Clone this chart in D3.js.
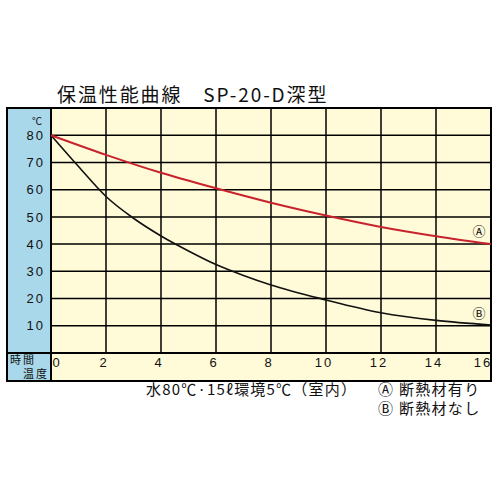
<!DOCTYPE html>
<html lang="ja">
<head>
    <meta charset="UTF-8">
    <title>保温性能曲線 SP-20-D深型</title>
    <script src="https://d3js.org/d3.v7.min.js"></script>
    <style>
        body {
            margin: 0;
            background: #fff;
            font-family: "Noto Sans CJK JP", "Noto Sans", sans-serif;
        }
        text {
            fill: #111;
        }
    </style>
</head>
<body>
    <div id="chart"></div>

    <script>
        // Data
        const xTicks = [0, 2, 4, 6, 8, 10, 12, 14, 16];        // 時間
        const yTicks = [10, 20, 30, 40, 50, 60, 70, 80];        // 温度 (℃)

        // A: 断熱材有り
        const hoursA = [0, 2, 4, 6, 8, 10, 12, 14, 16];
        const tempA  = [80, 72.8, 66.2, 60.5, 55.2, 50.5, 46.3, 42.9, 40];

        // B: 断熱材なし
        const hoursB = [0, 1, 2, 3, 4, 5, 6, 7, 8, 10, 12, 14, 16];
        const tempB  = [80, 68.5, 57.5, 49.5, 43, 37.5, 32.5, 28.5, 25, 19.5, 14.8, 12, 10.3];

        const title = "保温性能曲線　SP-20-D深型";
        const note = "水80℃·15ℓ環境5℃（室内）";
        const legendA = "断熱材有り";
        const legendB = "断熱材なし";

        // Layout
        const W = 500, H = 500;
        const panelLeft = 7;        // left edge of blue label column
        const labelRow = 28;        // height of the time label row

        const x = d3.scaleLinear().domain([0, 16]).range([51, 491]);
        const y = d3.scaleLinear().domain([0, 90]).range([353, 108]);

        const svg = d3.select("#chart")
            .append("svg")
            .attr("width", W)
            .attr("height", H);

        const plotTop = y(90), plotBottom = y(0);

        // Backgrounds
        svg.append("rect")
            .attr("x", x(0)).attr("y", plotTop)
            .attr("width", x(16) - x(0)).attr("height", plotBottom + labelRow - plotTop)
            .attr("fill", "#fffad8");

        svg.append("rect")
            .attr("x", panelLeft).attr("y", plotTop)
            .attr("width", x(0) - panelLeft).attr("height", plotBottom + labelRow - plotTop)
            .attr("fill", "#a8d8ea");

        // Grid
        const grid = svg.append("g").attr("stroke", "#000").attr("stroke-width", 1.5);

        grid.selectAll(".vline")
            .data(xTicks.filter(d => d > 0 && d < 16))
            .enter().append("line")
            .attr("x1", d => x(d)).attr("x2", d => x(d))
            .attr("y1", plotTop).attr("y2", plotBottom);

        grid.selectAll(".hline")
            .data(yTicks)
            .enter().append("line")
            .attr("x1", x(0)).attr("x2", x(16))
            .attr("y1", d => y(d)).attr("y2", d => y(d));

        // Frame
        const frame = svg.append("g").attr("stroke", "#000").attr("stroke-width", 2).attr("fill", "none");
        frame.append("rect")
            .attr("x", panelLeft).attr("y", plotTop)
            .attr("width", x(16) - panelLeft).attr("height", plotBottom + labelRow - plotTop);
        frame.append("line")
            .attr("x1", x(0)).attr("x2", x(0))
            .attr("y1", plotTop).attr("y2", plotBottom + labelRow);
        frame.append("line")
            .attr("x1", panelLeft).attr("x2", x(16))
            .attr("y1", plotBottom).attr("y2", plotBottom);

        // Curves
        const line = d3.line()
            .x(d => x(d[0]))
            .y(d => y(d[1]))
            .curve(d3.curveMonotoneX);

        svg.append("path")
            .datum(hoursB.map((h, i) => [h, tempB[i]]))
            .attr("d", line)
            .attr("fill", "none")
            .attr("stroke", "#111")
            .attr("stroke-width", 1.6);

        svg.append("path")
            .datum(hoursA.map((h, i) => [h, tempA[i]]))
            .attr("d", line)
            .attr("fill", "none")
            .attr("stroke", "#c8232c")
            .attr("stroke-width", 2);

        // Y tick labels
        svg.selectAll(".ylab")
            .data(yTicks)
            .enter().append("text")
            .attr("x", 45)
            .attr("y", d => y(d))
            .attr("dy", "0.36em")
            .attr("text-anchor", "end")
            .attr("font-size", 13)
            .attr("letter-spacing", 2)
            .attr("font-family", "Liberation Sans, Arial, sans-serif")
            .text(d => d);

        svg.append("text")
            .attr("x", 37)
            .attr("y", y(80) - 14)
            .attr("dy", "0.36em")
            .attr("text-anchor", "middle")
            .attr("font-size", 10)
            .text("℃");

        // X tick labels in the bottom row
        svg.selectAll(".xlab")
            .data(xTicks)
            .enter().append("text")
            .attr("x", d => x(d) + (d === 0 ? 6 : d === 16 ? -8 : -2))
            .attr("y", plotBottom + 9)
            .attr("dy", "0.36em")
            .attr("text-anchor", "middle")
            .attr("font-size", 13)
            .attr("letter-spacing", 2)
            .attr("font-family", "Liberation Sans, Arial, sans-serif")
            .text(d => d);

        svg.append("text")
            .attr("x", 10).attr("y", plotBottom + 7)
            .attr("dy", "0.36em")
            .attr("font-size", 11)
            .attr("letter-spacing", 2)
            .text("時間");
        svg.append("text")
            .attr("x", 23).attr("y", plotBottom + 21)
            .attr("dy", "0.36em")
            .attr("font-size", 11)
            .attr("letter-spacing", 2)
            .text("温度");

        // Curve markers
        svg.append("text")
            .attr("x", 479).attr("y", y(tempA[tempA.length - 1]) - 13)
            .attr("dy", "0.36em")
            .attr("text-anchor", "middle")
            .attr("font-size", 13)
            .text("Ⓐ");
        svg.append("text")
            .attr("x", 479).attr("y", y(tempB[tempB.length - 1]) - 12)
            .attr("dy", "0.36em")
            .attr("text-anchor", "middle")
            .attr("font-size", 13)
            .text("Ⓑ");

        // Title
        svg.append("text")
            .attr("x", 57).attr("y", 95)
            .attr("dy", "0.36em")
            .attr("font-size", 19)
            .attr("letter-spacing", 1.9)
            .text(title);

        // Notes below the chart
        svg.append("text")
            .attr("x", 146).attr("y", 390)
            .attr("dy", "0.36em")
            .attr("font-size", 15)
            .attr("letter-spacing", 1.2)
            .text(note);

        svg.append("text")
            .attr("x", 378).attr("y", 390)
            .attr("dy", "0.36em")
            .attr("font-size", 15)
            .attr("letter-spacing", 1.3)
            .text("Ⓐ " + legendA);
        svg.append("text")
            .attr("x", 378).attr("y", 409)
            .attr("dy", "0.36em")
            .attr("font-size", 15)
            .attr("letter-spacing", 1.3)
            .text("Ⓑ " + legendB);
    </script>
</body>
</html>
